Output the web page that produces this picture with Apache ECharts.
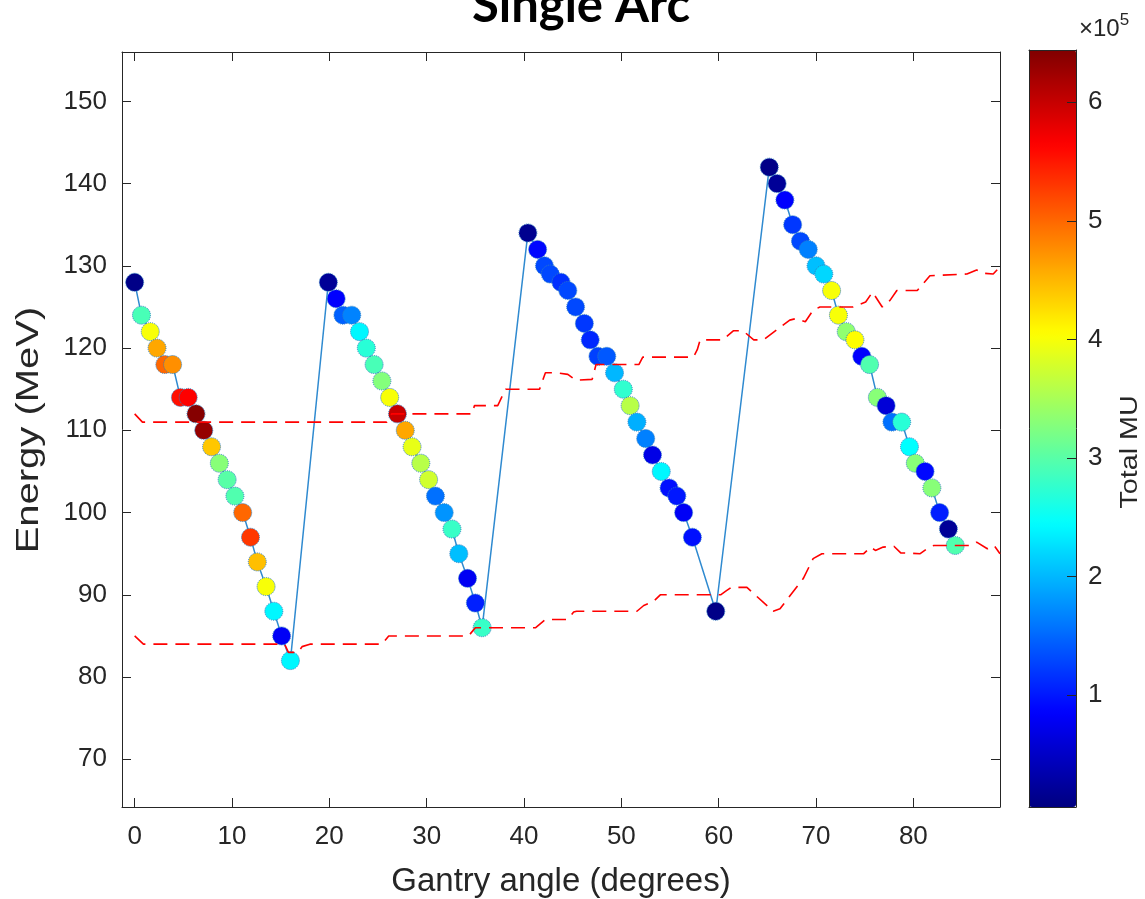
<!DOCTYPE html>
<html>
<head>
<meta charset="utf-8">
<script src="https://cdn.jsdelivr.net/npm/echarts@6/dist/echarts.min.js"></script>
<style>
  html, body { margin: 0; padding: 0; background: #ffffff; }
  #chart { width: 1145px; height: 899px; }
</style>
</head>
<body>
<div id="chart"></div>
<script>
// Spot positions of the single arc: gantry angle (deg), beam energy (MeV), total MU
const gantryAngle = [
  0, 0.7, 1.6, 2.3, 3.1, 3.9, 4.7, 5.5, 6.3, 7.1, 7.9, 8.7, 9.5, 10.3, 11.1, 11.9, 12.6, 13.5, 14.3, 15.1, 16.0,
  19.9, 20.7, 21.4, 22.3, 23.1, 23.8, 24.6, 25.4, 26.2, 27.0, 27.8, 28.5, 29.4, 30.2, 30.9, 31.8, 32.6, 33.3, 34.2, 35.0, 35.7,
  40.4, 41.4, 42.1, 42.7, 43.8, 44.5, 45.3, 46.2, 46.8, 47.6, 48.5, 49.3, 50.2, 50.9, 51.6, 52.5, 53.2, 54.1, 54.9, 55.7, 56.4, 57.3, 59.7,
  65.2, 66.0, 66.8, 67.6, 68.4, 69.2, 70.0, 70.8, 71.6, 72.3, 73.1, 74.0, 74.7, 75.5, 76.3, 77.2, 77.8, 78.8, 79.6, 80.2, 81.2, 81.9, 82.7, 83.6, 84.3
];
const energy = [
  128, 124, 122, 120, 118, 118, 114, 114, 112, 110, 108, 106, 104, 102, 100, 97, 94, 91, 88, 85, 82,
  128, 126, 124, 124, 122, 120, 118, 116, 114, 112, 110, 108, 106, 104, 102, 100, 98, 95, 92, 89, 86,
  134, 132, 130, 129, 128, 127, 125, 123, 121, 119, 119, 117, 115, 113, 111, 109, 107, 105, 103, 102, 100, 97, 88,
  142, 140, 138, 135, 133, 132, 130, 129, 127, 124, 122, 121, 119, 118, 114, 113, 111, 111, 108, 106, 105, 103, 100, 98, 96
];
const totalMU = [
  10000, 290000, 400000, 460000, 500000, 475000, 555000, 565000, 640000, 630000, 440000, 330000, 300000, 295000, 500000, 530000, 445000, 400000, 240000, 80000, 240000,
  20000, 85000, 145000, 167000, 240000, 270000, 290000, 327000, 400000, 600000, 460000, 390000, 360000, 375000, 155000, 178000, 280000, 205000, 78000, 105000, 280000,
  15000, 90000, 130000, 130000, 115000, 130000, 130000, 120000, 110000, 125000, 140000, 200000, 275000, 360000, 195000, 165000, 70000, 240000, 95000, 100000, 80000, 95000, 10000,
  10000, 20000, 85000, 120000, 130000, 165000, 205000, 220000, 400000, 400000, 335000, 405000, 85000, 295000, 330000, 60000, 155000, 270000, 245000, 330000, 90000, 330000, 105000, 20000, 295000
];

// Energy limits over gantry angle: [angle, energy]
const upperLimit = [
  [0, 112], [0.8, 111], [25.9, 111], [26.4, 112], [34.7, 112], [34.9, 113], [37.3, 113], [38.1, 115], [41.6, 115],
  [42.2, 117], [43.3, 117], [44.5, 116.8], [45.3, 116.1], [47.0, 116.2], [47.4, 118], [51.8, 118], [52.2, 118.9],
  [57.4, 118.9], [57.8, 119.8], [58.1, 121], [60.4, 121], [61.5, 122.1], [62.5, 122.1], [63.6, 121], [64.6, 121],
  [67.3, 123.4], [68.0, 123.6], [68.9, 123.2], [69.7, 124.6], [70.4, 125], [72.1, 125], [73.8, 125], [75.1, 125.6],
  [75.8, 126.8], [76.8, 125], [77.6, 125.8], [78.3, 127], [80.4, 127], [81.7, 128.8], [85.5, 129], [86.5, 129.5],
  [87.2, 129.1], [88.2, 129], [88.9, 129.9]
];
const lowerLimit = [
  [0, 85], [0.9, 84], [15.4, 84], [15.8, 83], [16.8, 83], [17.2, 83.7], [18.0, 84], [25.4, 84], [26.1, 85], [34.3, 85],
  [35.0, 86], [41.2, 86], [42.2, 87], [44.5, 87], [45.1, 87.9], [45.4, 88], [51.6, 88], [52.3, 88.7], [53.3, 89.2],
  [54.0, 90], [60.2, 90], [60.8, 90.5], [61.3, 90.9], [62.9, 90.9], [65.6, 88], [66.3, 88.3], [68.7, 92], [69.7, 94.4],
  [70.6, 95], [74.9, 95], [75.6, 95.8], [76.1, 95.4], [76.9, 95.8], [78.0, 95.9], [78.7, 95.1], [80.7, 95], [81.4, 95.6],
  [82.1, 96], [85.9, 96], [86.5, 96.4], [87.6, 95.6], [88.3, 96], [88.9, 95]
];

// Tick values
const angleTicks = [0, 10, 20, 30, 40, 50, 60, 70, 80];
const energyTicks = [70, 80, 90, 100, 110, 120, 130, 140, 150];
const muTicks = [100000, 200000, 300000, 400000, 500000, 600000];

// Jet colour map
const jet = ['#000080', '#0000ff', '#0080ff', '#00ffff', '#80ff80', '#ffff00', '#ff8000', '#ff0000', '#800000'];

const axisColor = '#262626';
const font = "'Liberation Sans', Arial, Helvetica, sans-serif";

const spots = gantryAngle.map((a, i) => [a, energy[i], totalMU[i]]);
const path = gantryAngle.map((a, i) => [a, energy[i]]);

const boxAxis = (extra) => Object.assign({
  type: 'value',
  scale: true,
  splitLine: { show: false },
  axisLine: { show: true, onZero: false, lineStyle: { color: axisColor, width: 1 } },
  axisTick: { show: true, inside: true, length: 9, lineStyle: { color: axisColor } },
  axisLabel: { show: false }
}, extra);

// Rotated axis titles, drawn slightly elongated along the text
const rotatedTitle = (text, x, y, size, stretch) => ({
  type: 'text',
  x: x,
  y: y,
  rotation: Math.PI / 2,
  scaleX: stretch,
  scaleY: 1,
  silent: true,
  style: {
    text: text,
    fontFamily: font,
    fontSize: size,
    fill: axisColor,
    align: 'center',
    verticalAlign: 'middle'
  }
});

const chart = echarts.init(document.getElementById('chart'), null, { renderer: 'canvas' });

chart.setOption({
  backgroundColor: '#ffffff',
  animation: false,
  title: {
    text: 'Single Arc',
    left: 576,
    top: -23,
    textAlign: 'center',
    textStyle: { fontFamily: "Lato, 'Open Sans', sans-serif", fontWeight: 'bold', fontSize: 49, color: '#000000' }
  },
  grid: [
    { left: 122, top: 52, width: 878, height: 755, outerBoundsMode: 'none', containLabel: false },
    { left: 1029, top: 50, width: 47, height: 757, outerBoundsMode: 'none', containLabel: false }
  ],
  xAxis: [
    boxAxis({
      gridIndex: 0, position: 'bottom', min: -1.3, max: 88.9,
      axisTick: { show: true, inside: true, length: 9, lineStyle: { color: axisColor }, customValues: angleTicks },
      axisLabel: { show: true, customValues: angleTicks, color: axisColor, fontFamily: font, fontSize: 26, margin: 17 },
      name: 'Gantry angle (degrees)', nameLocation: 'middle', nameGap: 58,
      nameTextStyle: { color: axisColor, fontFamily: font, fontSize: 33 }
    }),
    boxAxis({
      gridIndex: 0, position: 'top', min: -1.3, max: 88.9,
      axisTick: { show: true, inside: true, length: 9, lineStyle: { color: axisColor }, customValues: angleTicks }
    }),
    { type: 'value', gridIndex: 1, min: 0, max: 1, position: 'bottom', z: 10,
      axisLine: { show: true, onZero: false, lineStyle: { color: axisColor } }, axisTick: { show: false },
      axisLabel: { show: false }, splitLine: { show: false } },
    { type: 'value', gridIndex: 1, min: 0, max: 1, position: 'top', z: 10,
      axisLine: { show: true, onZero: false, lineStyle: { color: axisColor } }, axisTick: { show: false },
      axisLabel: { show: false }, splitLine: { show: false } }
  ],
  yAxis: [
    boxAxis({
      gridIndex: 0, position: 'left', min: 64.2, max: 156,
      axisTick: { show: true, inside: true, length: 9, lineStyle: { color: axisColor }, customValues: energyTicks },
      axisLabel: { show: true, customValues: energyTicks, color: axisColor, fontFamily: font, fontSize: 26, margin: 15 }
    }),
    boxAxis({
      gridIndex: 0, position: 'right', min: 64.2, max: 156,
      axisTick: { show: true, inside: true, length: 9, lineStyle: { color: axisColor }, customValues: energyTicks }
    }),
    { type: 'value', gridIndex: 1, position: 'right', min: 5600, max: 644000, z: 10,
      splitLine: { show: false },
      axisLine: { show: true, onZero: false, lineStyle: { color: axisColor } },
      axisTick: { show: true, inside: true, length: 9, lineStyle: { color: axisColor }, customValues: muTicks },
      axisLabel: { show: true, customValues: muTicks, color: axisColor, fontFamily: font, fontSize: 26, margin: 12,
        formatter: (v) => String(Math.round(v / 100000)) } },
    { type: 'value', gridIndex: 1, position: 'left', min: 5600, max: 644000, z: 10,
      splitLine: { show: false },
      axisLine: { show: true, onZero: false, lineStyle: { color: axisColor } },
      axisTick: { show: false }, axisLabel: { show: false } }
  ],
  visualMap: {
    type: 'continuous',
    min: 5600,
    max: 644000,
    dimension: 2,
    seriesIndex: 1,
    calculable: false,
    hoverLink: false,
    orient: 'vertical',
    left: 1029,
    top: 50,
    padding: 0,
    itemWidth: 47,
    itemHeight: 757,
    text: null,
    inRange: { color: jet }
  },
  graphic: [
    rotatedTitle('Energy (MeV)', 29, 430, 32, 1.25),
    rotatedTitle('Total MU', 1131, 452, 23, 1.25),
    {
      type: 'text',
      left: 1079,
      top: 12,
      silent: true,
      style: {
        text: '{a|×10}{b|5}',
        rich: {
          a: { fontFamily: font, fontSize: 24, fill: axisColor, verticalAlign: 'bottom' },
          b: { fontFamily: font, fontSize: 17, fill: axisColor, verticalAlign: 'top', padding: [0, 0, 12, 0] }
        }
      }
    }
  ],
  series: [
    {
      name: 'path', type: 'line', xAxisIndex: 0, yAxisIndex: 0, data: path,
      symbol: 'none', z: 2, silent: true,
      lineStyle: { color: '#2f8ad0', width: 1.5 }
    },
    {
      name: 'spots', type: 'scatter', xAxisIndex: 0, yAxisIndex: 0, data: spots,
      symbol: 'circle', symbolSize: 18, z: 3,
      itemStyle: { opacity: 1, borderColor: '#2f7fc0', borderWidth: 1, borderType: 'dotted' }
    },
    {
      name: 'upper', type: 'line', xAxisIndex: 0, yAxisIndex: 0, data: upperLimit,
      symbol: 'none', z: 4, silent: true,
      lineStyle: { color: '#ff0000', width: 1.6, type: [14, 8] }
    },
    {
      name: 'lower', type: 'line', xAxisIndex: 0, yAxisIndex: 0, data: lowerLimit,
      symbol: 'none', z: 4, silent: true,
      lineStyle: { color: '#ff0000', width: 1.6, type: [14, 8] }
    }
  ]
});
</script>
</body>
</html>
